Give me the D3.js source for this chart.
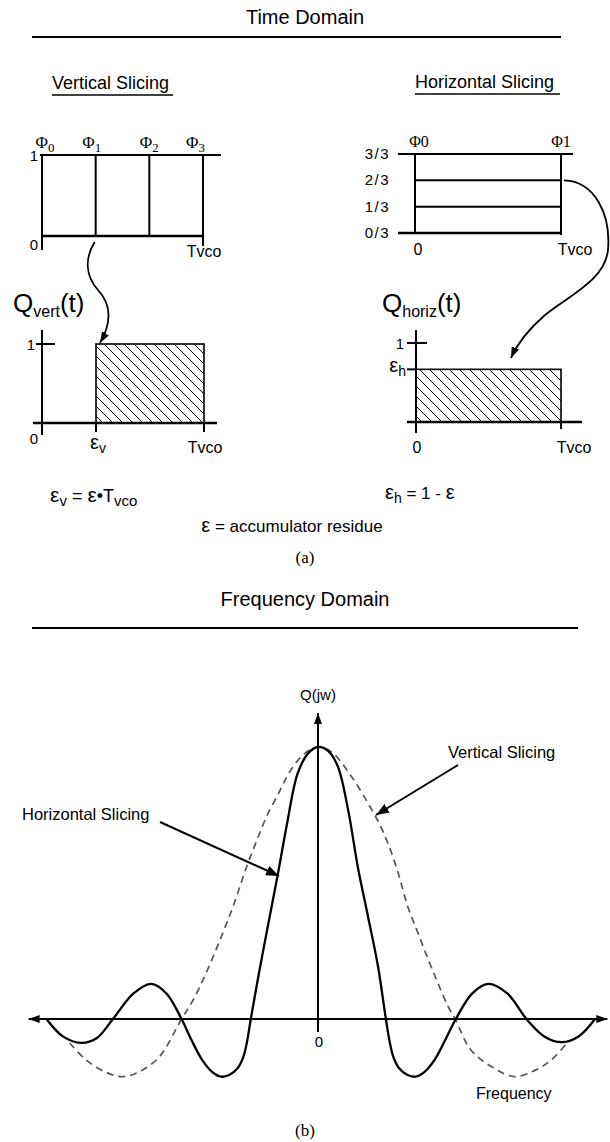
<!DOCTYPE html>
<html>
<head>
<meta charset="utf-8">
<script src="https://cdn.jsdelivr.net/npm/d3@7"></script>
<style>
  html, body { margin: 0; padding: 0; background: #fff; }
  svg { display: block; }
  text { font-family: "Liberation Sans", Arial, sans-serif; fill: #000; }
  .serif { font-family: "Liberation Serif", "Times New Roman", serif; }
</style>
</head>
<body>
<script>
// ---- data ----------------------------------------------------------------
// vertical slicing: phase edges as fractions of one VCO period
const vertSlices = [0, 1 / 3, 2 / 3, 1];
const vertPhaseLabels = ["0", "1", "2", "3"];          // subscripts of Φ
// horizontal slicing: amplitude levels
const horizLevels = [0, 1 / 3, 2 / 3, 1];
const horizLevelLabels = ["0/3", "1/3", "2/3", "3/3"];
const horizPhaseLabels = ["Φ0", "Φ1"];
// quantisation error pulses
const epsV = 1 / 3;   // pulse start, fraction of Tvco
const epsH = 2 / 3;   // pulse height
// spectra: [normalised frequency, |Q(jw)|]
const horizSpectrum = [
  [-3.96, 0], [-3.72, -0.064], [-3.45, -0.088], [-3.23, -0.071], [-2.99, 0],
  [-2.69, 0.094], [-2.43, 0.129], [-2.21, 0.094], [-1.99, 0], [-1.84, -0.08],
  [-1.69, -0.15], [-1.54, -0.195], [-1.41, -0.212], [-1.29, -0.205], [-1.17, -0.18],
  [-1.09, -0.14], [-1.04, -0.09], [-0.98, 0],
  [-0.86, 0.17], [-0.74, 0.33], [-0.58, 0.54], [-0.45, 0.72], [-0.3, 0.9],
  [-0.15, 0.975], [0, 1], [0.15, 0.985], [0.29, 0.928], [0.44, 0.768],
  [0.58, 0.56], [0.73, 0.376], [0.876, 0.192], [0.99, 0], [1.05, -0.09],
  [1.1, -0.14], [1.18, -0.18], [1.3, -0.205], [1.42, -0.212], [1.55, -0.195],
  [1.7, -0.15], [1.85, -0.08],
  [2.01, 0], [2.25, 0.094], [2.48, 0.129], [2.76, 0.094], [3.04, 0],
  [3.3, -0.064], [3.55, -0.085], [3.8, -0.064], [4.04, 0]
];
const vertSpectrum = [
  [-3.62, -0.088], [-3.38, -0.151], [-3.1, -0.195], [-2.84, -0.212],
  [-2.58, -0.19], [-2.31, -0.138], [-1.99, 0], [-1.82, 0.07], [-1.63, 0.17],
  [-1.43, 0.29], [-1.24, 0.413], [-1.04, 0.56], [-0.89, 0.658], [-0.75, 0.744],
  [-0.55, 0.842], [-0.41, 0.91], [-0.2, 0.975], [0, 1], [0.19, 0.983],
  [0.49, 0.891], [0.73, 0.793], [0.88, 0.725], [1.02, 0.646], [1.17, 0.536],
  [1.31, 0.413], [1.46, 0.315], [1.61, 0.217], [1.75, 0.131], [1.9, 0.045],
  [2.0, 0], [2.23, -0.114], [2.53, -0.175], [2.87, -0.212], [3.17, -0.188],
  [3.4, -0.151], [3.65, -0.083]
];

// ---- canvas --------------------------------------------------------------
const W = 610, H = 1142;
const svg = d3.select("body").append("svg").attr("width", W).attr("height", H);
const defs = svg.append("defs");

function marker(id, len, wid) {
  defs.append("marker").attr("id", id)
    .attr("markerUnits", "userSpaceOnUse")
    .attr("markerWidth", len).attr("markerHeight", wid)
    .attr("refX", len).attr("refY", wid / 2)
    .attr("orient", "auto")
    .append("path").attr("d", `M0,0L${len},${wid / 2}L0,${wid}Z`).attr("fill", "#000");
}
marker("head", 11, 8);
marker("headBig", 13, 10);

// diagonal hatch
const hatch = defs.append("pattern").attr("id", "hatch")
  .attr("patternUnits", "userSpaceOnUse").attr("width", 10).attr("height", 10);
hatch.append("path").attr("d", "M-5,5L5,15M0,0L10,10M5,-5L15,5")
  .attr("stroke", "#000").attr("stroke-width", 1);

function line(g, x1, y1, x2, y2, w) {
  return g.append("line").attr("x1", x1).attr("y1", y1).attr("x2", x2).attr("y2", y2)
    .attr("stroke", "#000").attr("stroke-width", w || 2);
}
function label(g, x, y, txt, size, anchor) {
  return g.append("text").attr("x", x).attr("y", y).attr("font-size", size)
    .attr("text-anchor", anchor || "start").text(txt);
}

// ---- section headings ----------------------------------------------------
label(svg, 305, 24, "Time Domain", 20, "middle");
line(svg, 32, 37, 561, 37, 2);

label(svg, 52, 89, "Vertical Slicing", 18);
line(svg, 52, 95, 173, 95, 1.6);
label(svg, 415, 88, "Horizontal Slicing", 18);
line(svg, 415, 94, 560, 94, 1.6);

// ---- vertical slicing grid ----------------------------------------------
const gV = svg.append("g");
const xV = d3.scaleLinear().domain([0, 1]).range([42, 203]);
const yV = d3.scaleLinear().domain([0, 1]).range([236, 155]);
line(gV, xV(0) - 2, yV(1), xV(1) + 18, yV(1), 2);
line(gV, xV(0), yV(0), xV(1), yV(0), 2.6);
gV.selectAll("line.slice").data(vertSlices).join("line").attr("class", "slice")
  .attr("x1", d => xV(d)).attr("x2", d => xV(d))
  .attr("y1", yV(1))
  .attr("y2", (d, i) => i === 0 ? yV(0) + 14 : (i === vertSlices.length - 1 ? yV(0) + 10 : yV(0)))
  .attr("stroke", "#000").attr("stroke-width", 2);
const phi = gV.selectAll("text.phi").data(vertSlices).join("text").attr("class", "phi serif")
  .attr("x", (d, i) => i === vertSlices.length - 1 ? xV(d) + 2 : xV(d) + (i === 0 ? 3 : (i === 1 ? -4 : 0)))
  .attr("y", yV(1) - 7)
  .attr("text-anchor", (d, i) => i === vertSlices.length - 1 ? "end" : "middle")
  .attr("font-size", 17);
phi.append("tspan").text("Φ");
phi.append("tspan").attr("dy", 4).attr("font-size", 13).text((d, i) => vertPhaseLabels[i]);
label(gV, xV(0) - 4, yV(1) + 6, "1", 15, "end");
label(gV, xV(0) - 4, yV(0) + 14, "0", 15, "end");
label(gV, xV(1) + 1, yV(0) + 21, "Tvco", 16, "middle");

// ---- horizontal slicing grid --------------------------------------------
const gH = svg.append("g");
const xH = d3.scaleLinear().domain([0, 1]).range([415, 561]);
const yH = d3.scaleLinear().domain([0, 1]).range([233, 154]);
gH.selectAll("line.level").data(horizLevels).join("line").attr("class", "level")
  .attr("x1", (d, i) => (i === 0 || i === horizLevels.length - 1) ? xH(0) - 17 : xH(0))
  .attr("x2", (d, i) => i === horizLevels.length - 1 ? xH(1) + 12 : xH(1))
  .attr("y1", d => yH(d)).attr("y2", d => yH(d))
  .attr("stroke", "#000").attr("stroke-width", (d, i) => i === 0 ? 2.6 : 2);
line(gH, xH(0), yH(1), xH(0), yH(0), 2);
line(gH, xH(1), yH(1), xH(1), yH(0) + 2, 2);
gH.selectAll("text.lvl").data(horizLevels).join("text").attr("class", "lvl")
  .attr("x", xH(0) - 25).attr("y", d => yH(d) + 5)
  .attr("text-anchor", "end").attr("font-size", 15).attr("letter-spacing", 1.5)
  .text((d, i) => horizLevelLabels[i]);
gH.selectAll("text.hphi").data([0, 1]).join("text").attr("class", "hphi serif")
  .attr("x", d => xH(d) + (d === 0 ? 4 : 0)).attr("y", yH(1) - 7)
  .attr("text-anchor", "middle").attr("font-size", 16)
  .text((d, i) => horizPhaseLabels[i]);
label(gH, xH(0) + 3, yH(0) + 22, "0", 16, "middle");
label(gH, xH(1) + 14, yH(0) + 22, "Tvco", 16, "middle");

// ---- Qvert(t) -------------------------------------------------------------
const gQV = svg.append("g");
const xQV = d3.scaleLinear().domain([0, 1]).range([42, 204]);
const yQV = d3.scaleLinear().domain([0, 1]).range([423, 344]);
gQV.append("rect").attr("x", xQV(epsV)).attr("y", yQV(1))
  .attr("width", xQV(1) - xQV(epsV)).attr("height", yQV(0) - yQV(1))
  .attr("fill", "url(#hatch)").attr("stroke", "#000").attr("stroke-width", 1.6);
line(gQV, xQV(0), 330, xQV(0), 435, 2);
line(gQV, xQV(0) - 6, yQV(1), xQV(0) + 13, yQV(1), 2);
line(gQV, xQV(0) - 9, yQV(0), 217, yQV(0), 2.4);
line(gQV, xQV(epsV), yQV(0), xQV(epsV), yQV(0) + 9, 2);
line(gQV, xQV(1), yQV(0), xQV(1), yQV(0) + 9, 2);
label(gQV, xQV(0) - 7, yQV(1) + 6, "1", 15, "end");
label(gQV, xQV(0) - 4, yQV(0) + 21, "0", 15, "end");
const ev = gQV.append("text").attr("x", xQV(epsV) - 6).attr("y", yQV(0) + 26).attr("font-size", 20);
ev.append("tspan").text("ε");
ev.append("tspan").attr("dy", 4).attr("font-size", 14).text("v");
label(gQV, xQV(1) + 1, yQV(0) + 30, "Tvco", 16, "middle");
const qv = gQV.append("text").attr("x", 13).attr("y", 312).attr("font-size", 26);
qv.append("tspan").text("Q");
qv.append("tspan").attr("dy", 5).attr("font-size", 16).text("vert");
qv.append("tspan").attr("dy", -5).text("(t)");

// ---- Qhoriz(t) ------------------------------------------------------------
const gQH = svg.append("g");
const xQH = d3.scaleLinear().domain([0, 1]).range([416, 561]);
const yQH = d3.scaleLinear().domain([0, 1]).range([422, 343]);
gQH.append("rect").attr("x", xQH(0)).attr("y", yQH(epsH))
  .attr("width", xQH(1) - xQH(0)).attr("height", yQH(0) - yQH(epsH))
  .attr("fill", "url(#hatch)").attr("stroke", "#000").attr("stroke-width", 1.6);
line(gQH, xQH(0), 330, xQH(0), 433, 2);
line(gQH, xQH(0) - 9, yQH(1), xQH(0) + 11, yQH(1), 2);
line(gQH, xQH(0) - 9, yQH(epsH), xQH(0), yQH(epsH), 2);
line(gQH, xQH(0) - 9, yQH(0), 582, yQH(0), 2.4);
line(gQH, xQH(1), yQH(0), xQH(1), yQH(0) + 7, 2);
label(gQH, xQH(0) - 12, yQH(1) + 6, "1", 15, "end");
const eh = gQH.append("text").attr("x", xQH(0) - 10).attr("y", yQH(epsH) + 3)
  .attr("font-size", 20).attr("text-anchor", "end");
eh.append("tspan").text("ε");
eh.append("tspan").attr("dy", 4).attr("font-size", 14).text("h");
label(gQH, xQH(0) + 1, yQH(0) + 31, "0", 16, "middle");
label(gQH, xQH(1) + 13, yQH(0) + 31, "Tvco", 16, "middle");
const qh = gQH.append("text").attr("x", 382).attr("y", 312).attr("font-size", 26);
qh.append("tspan").text("Q");
qh.append("tspan").attr("dy", 5).attr("font-size", 16).text("horiz");
qh.append("tspan").attr("dy", -5).text("(t)");

// ---- mapping arrows -------------------------------------------------------
svg.append("path")
  .attr("d", `M${xV(epsV) - 1},${yV(0) + 6} C85,258 85,275 98,290 C112,305 112,322 ${xQV(epsV) + 4},${yQV(1) - 1}`)
  .attr("fill", "none").attr("stroke", "#000").attr("stroke-width", 1.8)
  .attr("marker-end", "url(#head)");
svg.append("path")
  .attr("d", `M${xH(1) + 3},${yH(epsH)} C595,181 611,215 608,250 C605,280 570,295 545,315 C530,328 518,342 511,358`)
  .attr("fill", "none").attr("stroke", "#000").attr("stroke-width", 1.8)
  .attr("marker-end", "url(#head)");

// ---- definitions ----------------------------------------------------------
const f1 = svg.append("text").attr("x", 50).attr("y", 502).attr("font-size", 18);
f1.append("tspan").attr("font-size", 21).text("ε");
f1.append("tspan").attr("dy", 4).attr("font-size", 15).text("v");
f1.append("tspan").attr("dy", -4).text(" = ");
f1.append("tspan").attr("font-size", 21).text("ε");
f1.append("tspan").text("•T");
f1.append("tspan").attr("dy", 4).attr("font-size", 15).text("vco");
const f2 = svg.append("text").attr("x", 385).attr("y", 499).attr("font-size", 17);
f2.append("tspan").attr("font-size", 20).text("ε");
f2.append("tspan").attr("dy", 4).attr("font-size", 14).text("h");
f2.append("tspan").attr("dy", -4).text(" = 1 - ");
f2.append("tspan").attr("font-size", 20).text("ε");
const f3 = svg.append("text").attr("x", 292).attr("y", 532).attr("font-size", 17).attr("text-anchor", "middle");
f3.append("tspan").attr("font-size", 20).text("ε");
f3.append("tspan").text(" = accumulator residue");
label(svg, 305, 563, "(a)", 17, "middle").attr("class", "serif");

// ---- frequency domain -----------------------------------------------------
label(svg, 305, 606, "Frequency Domain", 20, "middle");
line(svg, 32, 628, 578, 628, 2);

const gF = svg.append("g");
const xF = d3.scaleLinear().domain([-4.2, 4.2]).range([30, 606]);
const yF = d3.scaleLinear().domain([0, 1]).range([1019, 747]);

const lineGen = d3.line().x(d => xF(d[0])).y(d => yF(d[1])).curve(d3.curveCatmullRom.alpha(0.5));
gF.append("path").datum(vertSpectrum).attr("d", lineGen)
  .attr("fill", "none").attr("stroke", "#555").attr("stroke-width", 1.7)
  .attr("stroke-dasharray", "7,5");
gF.append("path").datum(horizSpectrum).attr("d", lineGen)
  .attr("fill", "none").attr("stroke", "#000").attr("stroke-width", 2.3);

// axes with arrowheads
gF.append("line").attr("x1", xF(0)).attr("x2", xF(0)).attr("y1", 1032).attr("y2", yF(1.125))
  .attr("stroke", "#000").attr("stroke-width", 2).attr("marker-end", "url(#head)");
gF.append("line").attr("x1", xF(0)).attr("x2", xF(-4.22)).attr("y1", yF(0)).attr("y2", yF(0))
  .attr("stroke", "#000").attr("stroke-width", 2).attr("marker-end", "url(#head)");
gF.append("line").attr("x1", xF(0)).attr("x2", xF(4.22)).attr("y1", yF(0)).attr("y2", yF(0))
  .attr("stroke", "#000").attr("stroke-width", 2).attr("marker-end", "url(#head)");

label(gF, xF(0), 700, "Q(jw)", 15, "middle");
label(gF, xF(0) + 1, 1047, "0", 15, "middle");
label(gF, 476, 1099, "Frequency", 16);

label(gF, 22, 820, "Horizontal Slicing", 16.5);
gF.append("line").attr("x1", 160).attr("y1", 822).attr("x2", 279).attr("y2", 876)
  .attr("stroke", "#000").attr("stroke-width", 2).attr("marker-end", "url(#headBig)");
label(gF, 448, 758, "Vertical Slicing", 16.5);
gF.append("line").attr("x1", 458).attr("y1", 765).attr("x2", 376).attr("y2", 815)
  .attr("stroke", "#000").attr("stroke-width", 2).attr("marker-end", "url(#headBig)");

label(svg, 305, 1136, "(b)", 17, "middle").attr("class", "serif");
</script>
</body>
</html>
